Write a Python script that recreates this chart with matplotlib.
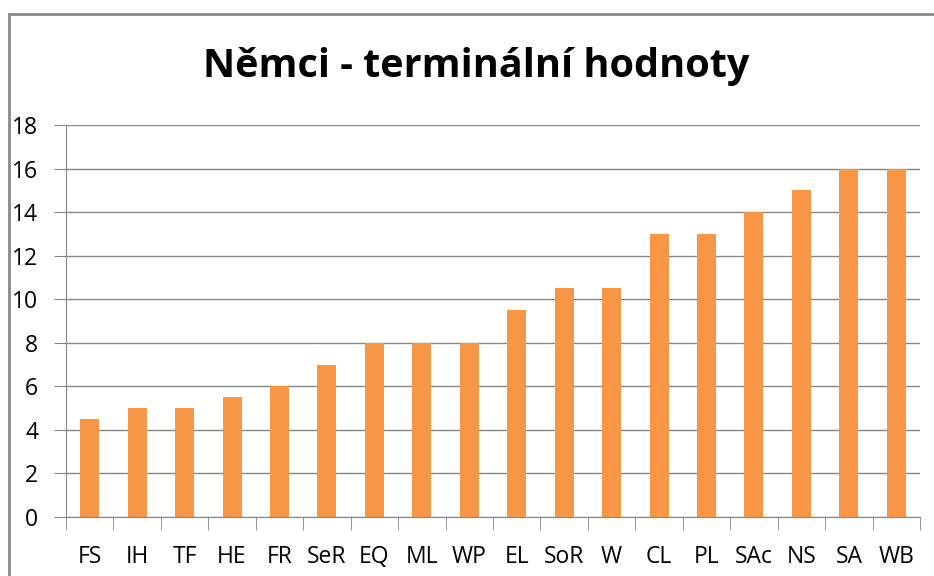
import matplotlib
matplotlib.use("Agg")
import matplotlib.pyplot as plt
from matplotlib.patches import Rectangle

labels = ["FS", "IH", "TF", "HE", "FR", "SeR", "EQ", "ML", "WP", "EL",
          "SoR", "W", "CL", "PL", "SAc", "NS", "SA", "WB"]
values = [4.5, 5, 5, 5.5, 6, 7, 8, 8, 8, 9.5, 10.5, 10.5, 13, 13, 14, 15, 16, 16]
yticks = [0, 2, 4, 6, 8, 10, 12, 14, 16, 18]

W, H = 934, 576
fig = plt.figure(figsize=(W / 100, H / 100), dpi=100)
plt.rcParams['font.family'] = ['Open Sans', 'DejaVu Sans']

# outer chart border (cut off at right and bottom)
fig.patches.append(Rectangle((9 / W, -0.1), 1.2, 1.1 - 14 / H,
                             transform=fig.transFigure, fill=False,
                             edgecolor='#898989', linewidth=2))

ax = fig.add_axes([66 / W, 1 - 517 / H, (920 - 66) / W, (517 - 125) / H])
x = range(len(labels))
ax.bar(x, values, width=0.4, color='#F79646', zorder=3)

ax.set_xlim(-0.5, len(labels) - 0.5)
ax.set_ylim(0, 18)
ax.set_yticks(yticks)
ax.set_yticklabels([str(v) for v in yticks], fontsize=16.5)
ax.yaxis.grid(True, color='#868686', linewidth=1)
ax.set_axisbelow(True)

ax.set_xticks(x)
ax.set_xticklabels(labels, fontsize=16.5)
ax.tick_params(axis='x', length=0, pad=20)
ax.tick_params(axis='y', length=9, color='#868686', pad=11)
# category boundary ticks
ax.set_xticks([i - 0.5 for i in range(len(labels) + 1)], minor=True)
ax.tick_params(axis='x', which='minor', length=9, color='#868686')

for s in ['top', 'right']:
    ax.spines[s].set_visible(False)
for s in ['left', 'bottom']:
    ax.spines[s].set_color('#868686')

fig.text(476 / W, 1 - 66 / H, "Němci - terminální hodnoty", ha='center',
         va='center', fontsize=28.5, fontweight='bold')

fig.savefig("out.png", dpi=100)
